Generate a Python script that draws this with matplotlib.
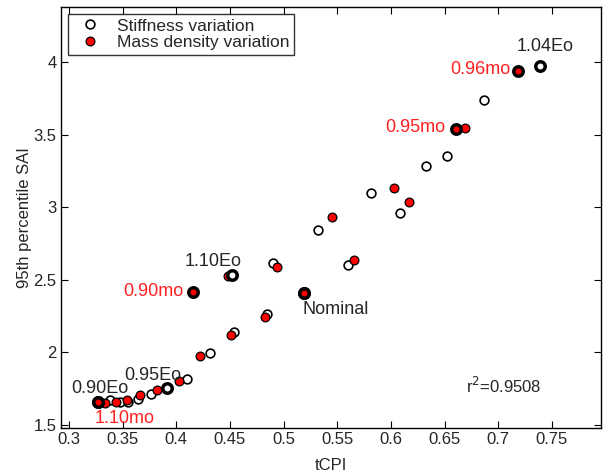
import numpy as np
import matplotlib
matplotlib.use("Agg")
import matplotlib.pyplot as plt

plt.rcParams['font.family'] = ['Liberation Sans', 'DejaVu Sans']

# stiffness variation (open circles)
stiff_x = [0.3274, 0.3382, 0.3476, 0.3548, 0.3641, 0.3762, 0.3911, 0.4104, 0.4315,
           0.4542, 0.4847, 0.5189, 0.4518, 0.4900, 0.5320, 0.5600, 0.5814, 0.6081,
           0.6330, 0.6526, 0.6865, 0.7387]
stiff_y = [1.656, 1.675, 1.658, 1.661, 1.679, 1.716, 1.757, 1.820, 1.996,
           2.140, 2.262, 2.409, 2.536, 2.616, 2.846, 2.605, 3.098, 2.963,
           3.284, 3.350, 3.736, 3.975]

# mass density variation (red)
mass_x = [0.3274, 0.3333, 0.3441, 0.3541, 0.3662, 0.3824, 0.4026, 0.4222, 0.4511,
          0.4825, 0.5189, 0.4154, 0.4486, 0.4943, 0.5453, 0.5652, 0.6032, 0.6169,
          0.6604, 0.6694, 0.7188]
mass_y = [1.656, 1.651, 1.658, 1.675, 1.705, 1.744, 1.803, 1.975, 2.118,
          2.242, 2.409, 2.416, 2.524, 2.591, 2.930, 2.634, 3.130, 3.034,
          3.537, 3.543, 3.936]

# highlighted cases (index into arrays above)
stiff_hl = [0, 6, 11, 12, 21]
mass_hl = [0, 10, 11, 18, 20]

# labels: text, x, y, colour, alignment
labels = [
    ("1.04Eo", 0.744, 4.108, 'k', 'center'),
    ("0.96mo", 0.7114, 3.95, 'r', 'right'),
    ("0.95mo", 0.6507, 3.55, 'r', 'right'),
    ("1.10Eo", 0.4343, 2.628, 'k', 'center'),
    ("0.90mo", 0.4063, 2.421, 'r', 'right'),
    ("Nominal", 0.5174, 2.297, 'k', 'left'),
    ("0.95Eo", 0.3784, 1.842, 'k', 'center'),
    ("0.90Eo", 0.3289, 1.752, 'k', 'center'),
    ("1.10mo", 0.3522, 1.545, 'r', 'center'),
]
r2 = 0.9508

fig = plt.figure(figsize=(6.03, 4.74), dpi=100)
ax = fig.add_axes([0.101, 0.097, 0.896, 0.888])

ax.plot(stiff_x, stiff_y, 'o', mfc='white', mec='k', ms=6.3, mew=1.2,
        label='Stiffness variation')
ax.plot(mass_x, mass_y, 'o', mfc='red', mec='k', ms=6.3, mew=0.9,
        label='Mass density variation')

# thick edges for labelled cases
sx = np.array(stiff_x)
sy = np.array(stiff_y)
mx = np.array(mass_x)
my = np.array(mass_y)
ax.plot(sx[stiff_hl], sy[stiff_hl], 'o', mfc='white', mec='k', ms=6.8, mew=2.5)
ax.plot(mx[mass_hl], my[mass_hl], 'o', mfc='red', mec='k', ms=6.8, mew=2.5)

txt_col = {'k': '#262626', 'r': '#ff2020'}
for t, x, y, c, ha in labels:
    ax.text(x, y, t, color=txt_col[c], fontsize=13, ha=ha, va='center')

ax.text(0.6703, 1.773, r'r$^2$=%.4f' % r2, color='#262626', fontsize=12,
        ha='left', va='center')

ax.set_xlim(0.2925, 0.796)
ax.set_ylim(1.48, 4.377)
ax.set_xticks(np.arange(0.3, 0.751, 0.05))
ax.set_xticklabels(['0.3', '0.35', '0.4', '0.45', '0.5', '0.55', '0.6', '0.65', '0.7', '0.75'])
ax.set_yticks([1.5, 2, 2.5, 3, 3.5, 4])
ax.set_yticklabels(['1.5', '2', '2.5', '3', '3.5', '4'])
ax.tick_params(direction='in', top=True, right=True, length=5, width=0.8,
               labelsize=12, labelcolor='#262626', pad=3)
for s in ax.spines.values():
    s.set_linewidth(1.0)

ax.set_xlabel('tCPI', fontsize=12, color='#262626', labelpad=8)
ax.set_ylabel('95th percentile SAI', fontsize=12, color='#262626', labelpad=1)

leg = ax.legend(loc='upper left', fontsize=12.5, frameon=True, fancybox=False,
                borderaxespad=0.4, handletextpad=0.6, borderpad=0.25,
                labelspacing=0.1, handlelength=2.0)
leg.get_frame().set_edgecolor('k')
leg.get_frame().set_linewidth(1.0)
for tx in leg.get_texts():
    tx.set_color('#262626')

fig.savefig('out.png', dpi=100)
